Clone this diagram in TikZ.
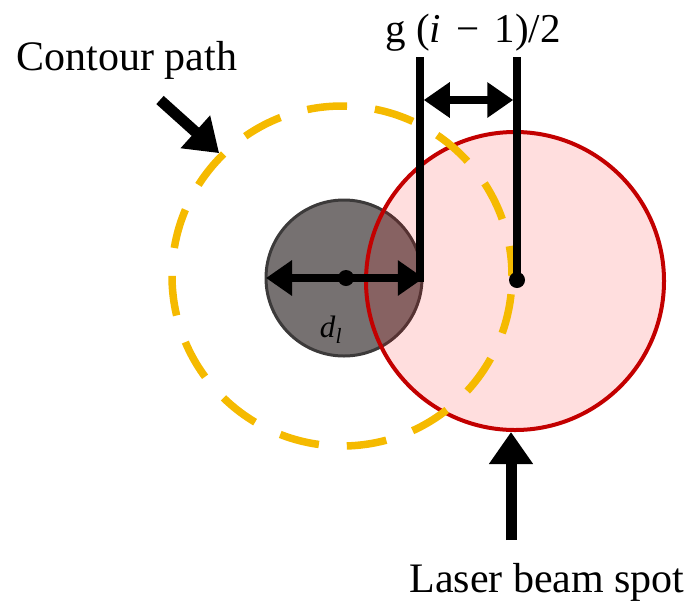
\documentclass[tikz,border=0pt]{standalone}
\usepackage{fontspec}
\setmainfont{Liberation Serif}
\usetikzlibrary{arrows.meta}
\definecolor{contourc}{RGB}{245,186,0}
\definecolor{beamline}{RGB}{195,0,0}
\definecolor{beamfill}{RGB}{255,0,0}
\definecolor{grayfill}{RGB}{118,113,113}
\definecolor{grayline}{RGB}{60,58,58}
\tikzset{
  blk/.style={line width=7.5pt, black},
  dimarrow/.style={line width=8pt, black, {Triangle[length=26pt,width=34pt]}-{Triangle[length=26pt,width=34pt]}},
  bigarrow/.style={line width=11pt, black, -{Triangle[length=32pt,width=42pt]}},
  dotc/.style={circle, fill=black, minimum size=16pt, inner sep=0pt},
  lbl/.style={inner sep=0pt, anchor=base, font=\fontsize{42}{46}\selectfont},
}
\begin{document}
\begin{tikzpicture}[x=1pt,y=-1pt]
\useasboundingbox (0,0) rectangle (692,606);
% gray particle
\node (gray) [circle, minimum size=156pt, inner sep=0pt, fill=grayfill, draw=grayline, line width=3pt] at (344,278) {};
% laser beam spot
\node (beam) [circle, minimum size=298pt, inner sep=0pt, fill=beamfill, fill opacity=0.13, draw=beamline, draw opacity=1, line width=4pt] at (515,281) {};
% contour path
\node (contour) [circle, minimum size=340pt, inner sep=0pt, draw=contourc, line width=7.5pt, dash pattern=on 40pt off 28pt, dash phase=10pt] at (342,276) {};
% coordinates
\coordinate (topL) at (420,57);
\coordinate (topR) at (517,57);
\coordinate (gL) at (420,100);
\coordinate (gR) at (517,100);
\coordinate (dlA) at (266,278);
\coordinate (dlB) at (420,278);
\node (dotL) [dotc] at (346,278) {};
\node (dotR) [dotc] at (517,280) {};
% vertical lines
\draw[blk] (topL) -- ([yshift=-3.75pt]dlB);
\draw[blk] (topR) -- (dotR.center);
% dimension arrows
\draw[dimarrow] ([xshift=3.75pt]gL) -- ([xshift=-3.75pt]gR);
\draw[dimarrow] (dlA) -- ([xshift=3.75pt]dlB);
% labels
\node (gtext) [inner sep=0pt, anchor=base, font=\fontsize{41}{44}\selectfont] at (473,42) {g (\textit{i}\hspace{0.12em} − \hspace{0.12em}1)/2};
\node (dltext) [inner sep=0pt, anchor=base, font=\fontsize{31}{33}\selectfont] at (331,337) {\textit{d}\textsubscript{\textit{l}}};
\node (ctext) [lbl] at (127,70) {Contour path};
\node (ltext) [lbl] at (547,592) {Laser beam spot};
% pointer arrows
\coordinate (ctail) at (160,100);
\draw[bigarrow] (ctail) -- (contour.135);
\coordinate (ltail) at (511,540);
\draw[bigarrow] (ltail) -- (ltail |- beam.south);
\end{tikzpicture}
\end{document}
